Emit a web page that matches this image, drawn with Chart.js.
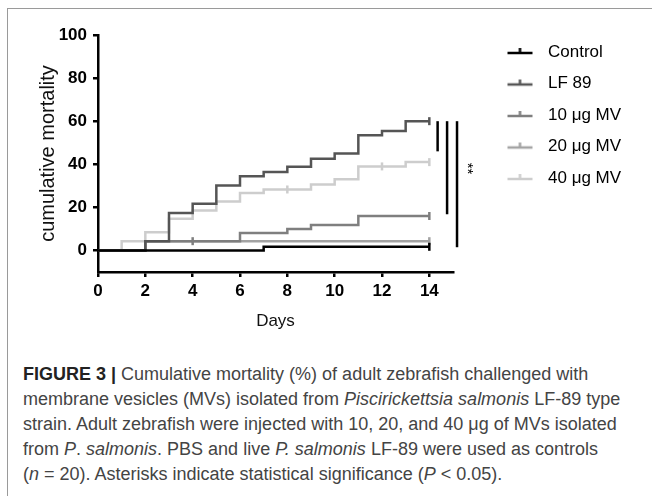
<!DOCTYPE html>
<html>
<head>
<meta charset="utf-8">
<script src="https://cdn.jsdelivr.net/npm/chart.js@4.4.1/dist/chart.umd.min.js"></script>
<style>
  html, body { margin: 0; padding: 0; background: #fff; }
  body { width: 652px; height: 496px; position: relative; overflow: hidden; font-family: "Liberation Sans", Arial, sans-serif; }
  .frame { position: absolute; left: 7px; top: 8px; width: 700px; height: 600px; border-left: 1px solid #9a9a9a; border-top: 1px solid #9a9a9a; }
  .plot { position: absolute; left: 0; top: 0; width: 652px; height: 340px; }
  .caption { position: absolute; left: 23px; top: 362px; font-size: 18px; line-height: 25px; color: #444; white-space: nowrap; }
  .caption b { color: #222; }
</style>
</head>
<body>
<div class="frame"></div>
<div class="plot"><canvas id="myChart"></canvas></div>
<div class="caption"><b>FIGURE 3 |</b> Cumulative mortality (%) of adult zebrafish challenged with<br>membrane vesicles (MVs) isolated from <i>Piscirickettsia salmonis</i> LF-89 type<br>strain. Adult zebrafish were injected with 10, 20, and 40 μg of MVs isolated<br>from <i>P</i>. <i>salmonis</i>. PBS and live <i>P. salmonis</i> LF-89 were used as controls<br>(<i>n</i> = 20). Asterisks indicate statistical significance (<i>P</i> &lt; 0.05).</div>
<script>
var element = document.getElementById('myChart').getContext('2d');

// days and cumulative mortality (%) at each day
var days = [0, 1, 2, 3, 4, 5, 6, 7, 8, 9, 10, 11, 12, 13, 14];
var control = [0, 0, 0, 0, 0, 0, 0, 1.7, 1.7, 1.7, 1.7, 1.7, 1.7, 1.7, 1.7];
var lf89 = [0, 0, 4.3, 17.4, 21.7, 30.2, 34.4, 36.4, 38.8, 42.6, 45, 53.5, 55.5, 60, 60];
var mv10 = [0, 0, 4.3, 4.3, 4.3, 4.3, 8.1, 8.1, 10, 11.8, 11.8, 16, 16, 16, 16];
var mv20 = [0, 0, 4.3, 4.3, 4.3, 4.3, 4.3, 4.3, 4.3, 4.3, 4.3, 4.3, 4.3, 4.3, 4.3];
var mv40 = [0, 4.3, 8.5, 14.7, 18.6, 22.7, 26.7, 28.3, 28.3, 30.6, 33, 39, 39, 41, 41];

// days with a censor tick on each curve
var controlMarks = [14];
var lf89Marks = [14];
var mv10Marks = [4, 14];
var mv20Marks = [14];
var mv40Marks = [8, 12, 14];

var seriesNames = ['Control', 'LF 89', '10 μg MV', '20 μg MV', '40 μg MV'];
var seriesColors = ['#000000', '#555555', '#7f7f7f', '#a3a3a3', '#cdcdcd'];

var xTicks = [0, 2, 4, 6, 8, 10, 12, 14];
var yTicks = [0, 20, 40, 60, 80, 100];

// significance bars: day position, top and bottom value
var barDays = [14.35, 14.75, 15.17];
var barTop = [60, 60, 60];
var barBottom = [46, 16.8, 1.5];
var starDay = 15.6;
var starValue = 38;

var legendWidth = 199; // room right of the plot for the bars and the legend

function points(values) {
    return days.map(function (d, i) { return {x: d, y: values[i]}; });
}

function markRadius(list) {
    return function (c) { return list.indexOf(days[c.dataIndex]) >= 0 ? 4 : 0; };
}

// legend marker: short line with a tick on top, drawn on the right side of a wide canvas
function legendMark(color) {
    var c = document.createElement('canvas');
    c.width = 72;
    c.height = 12;
    var g = c.getContext('2d');
    g.strokeStyle = color;
    g.lineWidth = 2.5;
    g.beginPath();
    g.moveTo(40, 7);
    g.lineTo(65, 7);
    g.moveTo(52.5, 7);
    g.lineTo(52.5, 2);
    g.stroke();
    return c;
}

var allValues = [control, lf89, mv10, mv20, mv40];
var allMarks = [controlMarks, lf89Marks, mv10Marks, mv20Marks, mv40Marks];

var chartData = {
    datasets: allValues.map(function (vals, i) {
        return {
            label: seriesNames[i],
            data: points(vals),
            borderColor: seriesColors[i],
            backgroundColor: seriesColors[i],
            borderWidth: 2.5,
            stepped: 'before',
            fill: false,
            pointStyle: 'line',
            rotation: 90,
            pointRadius: markRadius(allMarks[i]),
            pointHoverRadius: 0,
            pointBorderWidth: 2.5,
            pointBorderColor: seriesColors[i]
        };
    })
};

// the legend box is normally capped at a quarter of the width, widen it
var legendGap = {
    id: 'legendGap',
    afterInit: function (chart) {
        var legend = chart.legend;
        var fit = legend.fit;
        legend.fit = function () {
            fit.call(this);
            this.width = legendWidth;
        };
    }
};

var sigPlugin = {
    id: 'sigBars',
    afterDraw: function (chart) {
        var ctx = chart.ctx;
        var xs = chart.scales.x;
        var ys = chart.scales.y;
        ctx.save();
        ctx.strokeStyle = '#000';
        ctx.lineWidth = 2.5;
        for (var i = 0; i < barDays.length; i++) {
            var px = xs.getPixelForValue(barDays[i]);
            ctx.beginPath();
            ctx.moveTo(px, ys.getPixelForValue(barTop[i]));
            ctx.lineTo(px, ys.getPixelForValue(barBottom[i]));
            ctx.stroke();
        }
        ctx.translate(xs.getPixelForValue(starDay), ys.getPixelForValue(starValue));
        ctx.rotate(Math.PI / 2);
        ctx.fillStyle = '#000';
        ctx.font = '15px "Liberation Sans", Arial';
        ctx.textAlign = 'center';
        ctx.textBaseline = 'middle';
        ctx.fillText('**', 0, 0);
        ctx.restore();
    }
};

var tickFont = {family: '"Liberation Sans", Arial', size: 17, weight: 'bold'};

var chartOptions = {
    responsive: true,
    maintainAspectRatio: false,
    animation: false,
    layout: {
        padding: {left: 36, top: 29, right: 0, bottom: 0}
    },
    plugins: {
        tooltip: {enabled: false},
        legend: {
            position: 'right',
            align: 'start',
            labels: {
                usePointStyle: true,
                pointStyleWidth: 72,
                padding: 14.5,
                color: '#111',
                font: {family: '"Liberation Sans", Arial', size: 17},
                generateLabels: function (chart) {
                    return chart.data.datasets.map(function (ds, i) {
                        return {
                            text: ds.label,
                            pointStyle: legendMark(seriesColors[i]),
                            fillStyle: seriesColors[i],
                            strokeStyle: seriesColors[i],
                            lineWidth: 0,
                            hidden: false,
                            datasetIndex: i
                        };
                    });
                }
            }
        }
    },
    scales: {
        x: {
            type: 'linear',
            min: 0,
            max: 15,
            afterBuildTicks: function (s) { s.ticks = xTicks.map(function (v) { return {value: v}; }); },
            afterFit: function (s) { s.height = 68; },
            ticks: {color: '#000', font: tickFont, padding: 4, maxRotation: 0},
            grid: {drawOnChartArea: false, tickLength: 5, color: '#000', lineWidth: 2.5},
            border: {display: true, color: '#000', width: 2.5},
            title: {display: true, text: 'Days', color: '#111', font: {family: '"Liberation Sans", Arial', size: 17}, padding: {top: 0, bottom: 8}}
        },
        y: {
            min: -10,
            max: 100,
            afterBuildTicks: function (s) { s.ticks = yTicks.map(function (v) { return {value: v}; }); },
            afterFit: function (s) { s.width = 62; s.paddingTop = 35; },
            ticks: {color: '#000', font: tickFont, padding: 6},
            grid: {drawOnChartArea: false, tickLength: 5, color: '#000', lineWidth: 2.5},
            border: {display: true, color: '#000', width: 2.5},
            title: {display: true, text: 'cumulative mortality', color: '#111', font: {family: '"Liberation Sans", Arial', size: 20}, padding: {top: 0, bottom: 0}}
        }
    }
};

var chart = new Chart(element, {type: 'line', data: chartData, options: chartOptions, plugins: [legendGap, sigPlugin]});
</script>
</body>
</html>
